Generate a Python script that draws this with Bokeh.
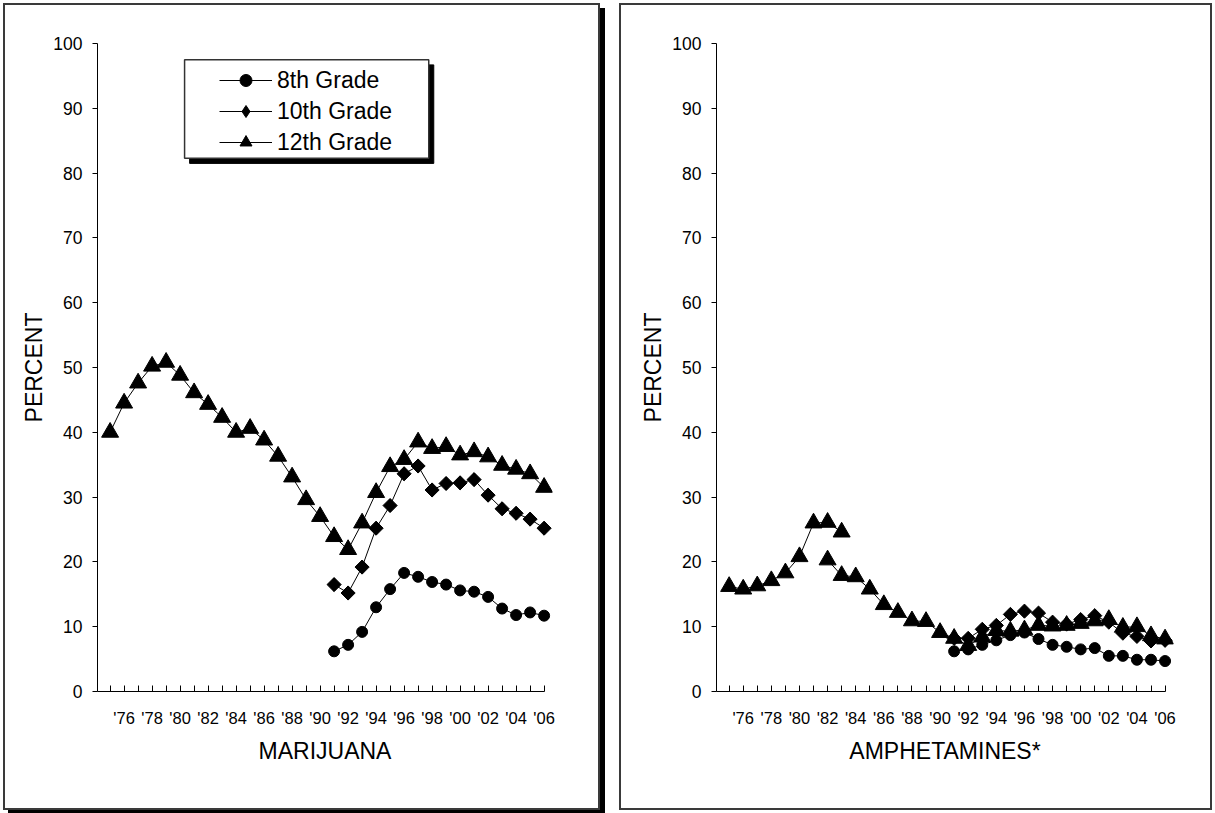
from bokeh.plotting import figure
from bokeh.layouts import row
from bokeh.models import FixedTicker, Range1d, BoxAnnotation, Legend, LegendItem
from bokeh.embed import file_html
from bokeh.resources import INLINE

FONT = "Liberation Sans"

years_all = list(range(1975, 2007))
years_8_10 = list(range(1991, 2007))
y_ticks = [0, 10, 20, 30, 40, 50, 60, 70, 80, 90, 100]
x_tick_labels = {y: ("'%02d" % (y % 100)) if y % 2 == 0 else "" for y in years_all}

# Marijuana (annual prevalence, %)
mj_12 = [40.0, 44.5, 47.6, 50.2, 50.8, 48.8, 46.1, 44.3, 42.3, 40.0, 40.6, 38.8,
         36.3, 33.1, 29.6, 27.0, 23.9, 21.9, 26.0, 30.7, 34.7, 35.8, 38.5, 37.5,
         37.8, 36.5, 37.0, 36.2, 34.9, 34.3, 33.6, 31.5]
mj_10 = [16.5, 15.2, 19.2, 25.2, 28.7, 33.6, 34.8, 31.1, 32.1, 32.2, 32.7, 30.3,
         28.2, 27.5, 26.6, 25.2]
mj_8 = [6.2, 7.2, 9.2, 13.0, 15.8, 18.3, 17.7, 16.9, 16.5, 15.6, 15.4, 14.6,
        12.8, 11.8, 12.2, 11.7]

# Amphetamines (annual prevalence, %)
amp_12_old_years = list(range(1975, 1984))
amp_12_old = [16.2, 15.8, 16.3, 17.1, 18.3, 20.8, 26.0, 26.1, 24.6]
amp_12_new_years = list(range(1982, 2007))
amp_12_new = [20.3, 17.9, 17.7, 15.8, 13.4, 12.2, 10.9, 10.8, 9.1, 8.2, 7.1, 8.4,
              9.4, 9.3, 9.5, 10.2, 10.1, 10.2, 10.5, 10.9, 11.1, 9.9, 10.0, 8.6, 8.1]
amp_10 = [8.2, 8.2, 9.6, 10.2, 11.9, 12.4, 12.1, 10.7, 10.4, 11.1, 11.7, 10.7,
          9.0, 8.5, 7.8, 7.9]
amp_8 = [6.2, 6.5, 7.2, 7.9, 8.7, 9.1, 8.1, 7.2, 6.9, 6.5, 6.7, 5.5, 5.5, 4.9,
         4.9, 4.7]

X0, X1 = 1974.1, 2006.6
ROT = 0.785398


def make_panel(width, height, fl, ft, fw, fh, title):
    p = figure(width=width, height=height, output_backend="svg", toolbar_location=None,
               x_range=Range1d(X0, X1), y_range=Range1d(0, 100),
               min_border_left=fl, min_border_top=ft,
               min_border_right=width - fl - fw, min_border_bottom=height - ft - fh)
    p.outline_line_color = None
    p.xgrid.visible = False
    p.ygrid.visible = False
    p.background_fill_color = "white"
    p.border_fill_color = "white"

    xa = p.xaxis[0]
    xa.ticker = FixedTicker(ticks=years_all)
    xa.major_label_overrides = x_tick_labels
    xa.bounds = (X0, 2006)
    xa.major_tick_in = 6
    xa.major_tick_out = 0
    xa.minor_tick_line_color = None
    xa.axis_line_color = "black"
    xa.major_tick_line_color = "black"
    xa.major_label_text_font = FONT
    xa.major_label_text_font_size = "16.5px"
    xa.major_label_text_color = "black"
    xa.major_label_standoff = 17
    xa.axis_label = title
    xa.axis_label_text_font = FONT
    xa.axis_label_text_font_size = "23px"
    xa.axis_label_text_font_style = "normal"
    xa.axis_label_text_color = "black"
    xa.axis_label_standoff = 8

    ya = p.yaxis[0]
    ya.ticker = FixedTicker(ticks=y_ticks)
    ya.major_tick_in = 0
    ya.major_tick_out = 5
    ya.minor_tick_line_color = None
    ya.axis_line_color = "black"
    ya.major_tick_line_color = "black"
    ya.major_label_text_font = FONT
    ya.major_label_text_font_size = "17.5px"
    ya.major_label_text_color = "black"
    ya.major_label_standoff = 10
    ya.axis_label = "PERCENT"
    ya.axis_label_text_font = FONT
    ya.axis_label_text_font_size = "23px"
    ya.axis_label_text_font_style = "normal"
    ya.axis_label_text_color = "black"
    ya.axis_label_standoff = 3
    return p


def series(p, xs, ys, marker, size, angle=0.0):
    ln = p.line(xs, ys, line_color="black", line_width=1)
    sc = p.scatter(xs, ys, marker=marker, size=size, angle=angle,
                   fill_color="black", line_color="black")
    return ln, sc


# ---- left panel: marijuana
p1 = make_panel(593, 803, 92, 38, 451, 644, "MARIJUANA")
l12 = series(p1, years_all, mj_12, "triangle", 17)
# diamond marker kept under the rotated squares; it supplies the legend symbol
d10 = p1.scatter(years_8_10, mj_10, marker="diamond", size=13,
                 fill_color="black", line_color="black")
l10 = series(p1, years_8_10, mj_10, "square", 10, angle=ROT)
l8 = series(p1, years_8_10, mj_8, "circle", 11)

shadow = BoxAnnotation(left=1980.68, right=1998.12, bottom=81.5, top=96.7,
                       fill_color="black", fill_alpha=1, line_color="black", line_alpha=1)
box = BoxAnnotation(left=1980.32, right=1997.76, bottom=82.3, top=97.5,
                    fill_color="white", fill_alpha=1, line_color="#333333", line_width=1.5,
                    line_alpha=1)
p1.add_layout(shadow)
p1.add_layout(box)

legend = Legend(items=[LegendItem(label="8th Grade", renderers=list(l8)),
                       LegendItem(label="10th Grade", renderers=[l10[0], d10]),
                       LegendItem(label="12th Grade", renderers=list(l12))],
                location=(122, 534), padding=0, margin=0, spacing=1,
                glyph_height=30, glyph_width=53, label_height=30, label_standoff=5,
                label_text_font=FONT, label_text_font_size="23px",
                label_text_color="black",
                background_fill_alpha=0, border_line_alpha=0)
p1.add_layout(legend)

# ---- right panel: amphetamines
p2 = make_panel(589, 803, 95, 38, 453, 645, "AMPHETAMINES*")
series(p2, amp_12_old_years, amp_12_old, "triangle", 17)
series(p2, amp_12_new_years, amp_12_new, "triangle", 17)
series(p2, years_8_10, amp_10, "square", 10, angle=ROT)
series(p2, years_8_10, amp_8, "circle", 11)

p1.styles = {"box-sizing": "content-box", "border": "2px solid #3a3a3a",
             "box-shadow": "5px 5px 0 0 #000000"}
p2.styles = {"box-sizing": "content-box", "border": "2px solid #3a3a3a"}

layout = row(p1, p2, spacing=19)
layout.styles = {"margin": "3px 0px 0px 3px"}

open("out.html", "w").write(file_html(layout, INLINE))
